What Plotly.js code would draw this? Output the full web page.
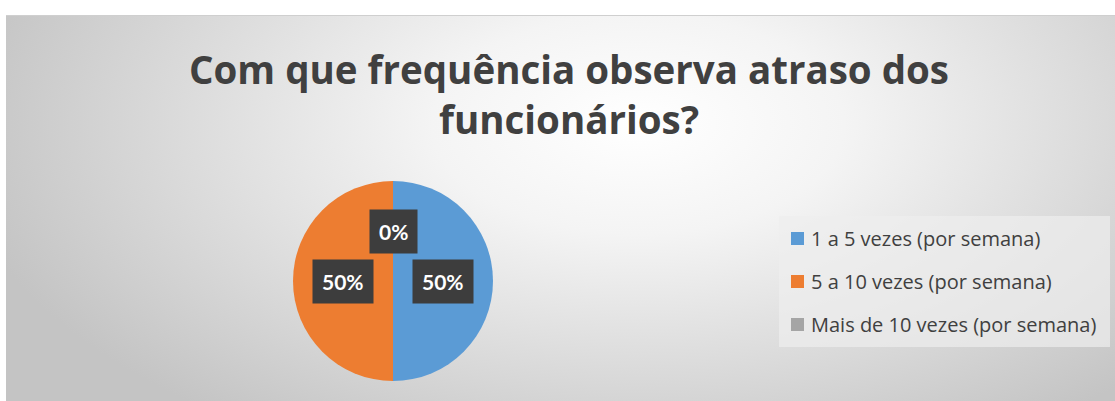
<!DOCTYPE html>
<html>
<head>
<meta charset="utf-8">
<script src="https://cdn.plot.ly/plotly-3.0.1.min.js"></script>
<style>
  html, body { margin: 0; padding: 0; background: #ffffff; width: 1115px; height: 401px; overflow: hidden; }
  #bg { position: absolute; left: 6px; top: 15px; width: 1109px; height: 386px;
        border-top: 1px solid #cfcfcf;
        background: radial-gradient(ellipse 62% 95% at 57% 28%, #ffffff 0%, #f4f4f4 30%, #dcdcdc 65%, #c4c4c4 100%); }
  #chart { position: absolute; left: 0; top: 0; width: 1115px; height: 401px; }
</style>
</head>
<body>
<div id="bg"></div>
<div id="chart"></div>
<script>
// ---- data ----
const categories = ["1 a 5 vezes (por semana)", "5 a 10 vezes (por semana)", "Mais de 10 vezes (por semana)"];
const values = [1, 1, 0];
const colors = ["#5B9BD5", "#ED7D31", "#A5A5A5"];
const titleText = "Com que frequência observa atraso dos<br>funcionários?";

// ---- layout geometry (pixels) ----
const W = 1115, H = 401;
const pie = { cx: 393, cy: 281, r: 100 };
const legendBox = { x0: 779, x1: 1110, y0: 216, y1: 347, rowStart: 238.5, rowStep: 43, markX: 791, mark: 13, textX: 809 };
const px = x => x / W;
const py = y => 1 - y / H;

const total = values.reduce((a, b) => a + b, 0);

const trace = {
  type: "pie",
  labels: categories,
  values: values,
  sort: false,
  direction: "clockwise",
  rotation: 0,
  marker: { colors: colors, line: { width: 0 } },
  textinfo: "none",
  hoverinfo: "label+percent",
  showlegend: false,
  domain: { x: [px(pie.cx - pie.r), px(pie.cx + pie.r)], y: [py(pie.cy + pie.r), py(pie.cy - pie.r)] }
};

const annotations = [];
const shapes = [];

// data labels, placed at mid-angle of each slice
let cum = 0;
values.forEach((v, i) => {
  const mid = (cum + v / 2) / total;
  cum += v;
  const th = 2 * Math.PI * mid;
  const x = pie.cx + 0.5 * pie.r * Math.sin(th);
  const y = pie.cy - 0.5 * pie.r * Math.cos(th);
  annotations.push({
    xref: "paper", yref: "paper", x: px(x), y: py(y),
    xanchor: "center", yanchor: "middle", showarrow: false,
    text: Math.round(v / total * 100) + "%",
    font: { family: "Lato, 'Open Sans', sans-serif", size: 21, color: "#ffffff", weight: 700 },
    bgcolor: "#3d3d3d", borderpad: 9
  });
});

// legend
shapes.push({ type: "rect", xref: "paper", yref: "paper",
  x0: px(legendBox.x0), x1: px(legendBox.x1), y0: py(legendBox.y1), y1: py(legendBox.y0),
  fillcolor: "rgba(238,238,238,0.7)", line: { width: 0 }, layer: "below" });
categories.forEach((c, i) => {
  const yc = legendBox.rowStart + i * legendBox.rowStep;
  shapes.push({ type: "rect", xref: "paper", yref: "paper",
    x0: px(legendBox.markX), x1: px(legendBox.markX + legendBox.mark),
    y0: py(yc + legendBox.mark / 2), y1: py(yc - legendBox.mark / 2),
    fillcolor: colors[i], line: { width: 0 } });
  annotations.push({ xref: "paper", yref: "paper", x: px(legendBox.textX), y: py(yc),
    xanchor: "left", yanchor: "middle", showarrow: false, text: c,
    font: { family: "'Open Sans', sans-serif", size: 20, color: "#404040" } });
});

const layout = {
  width: W, height: H,
  margin: { l: 0, r: 0, t: 0, b: 0 },
  paper_bgcolor: "rgba(0,0,0,0)",
  plot_bgcolor: "rgba(0,0,0,0)",
  showlegend: false,
  title: {
    text: titleText,
    x: px(569), xanchor: "center", xref: "container",
    y: py(84), yanchor: "middle", yref: "container",
    font: { family: "'Open Sans', sans-serif", size: 38.5, color: "#404040", weight: 700 }
  },
  annotations: annotations,
  shapes: shapes
};

Plotly.newPlot("chart", [trace], layout, { displayModeBar: false, staticPlot: true });
</script>
</body>
</html>
